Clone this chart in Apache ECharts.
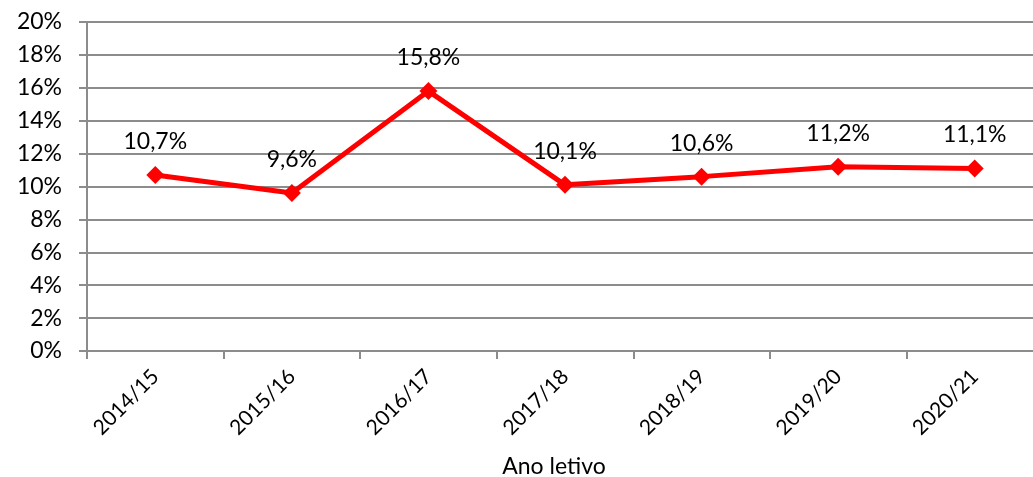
<!DOCTYPE html>
<html>
<head>
<meta charset="utf-8">
<script src="https://cdn.jsdelivr.net/npm/echarts@6/dist/echarts.min.js"></script>
<style>
  html, body { margin: 0; padding: 0; background: #fff; }
  #chart { width: 1033px; height: 477px; }
</style>
</head>
<body>
<div id="chart"></div>
<script>
var years = ['2014/15', '2015/16', '2016/17', '2017/18', '2018/19', '2019/20', '2020/21'];
var rates = [10.7, 9.6, 15.8, 10.1, 10.6, 11.2, 11.1];

var font = 'Lato, "Open Sans", sans-serif';
var gray = '#8c8c8c';

var myChart = echarts.init(document.getElementById('chart'));

var option = {
    animation: false,
    grid: {
        left: 87,
        width: 956,
        top: 22,
        height: 329,
        outerBoundsMode: 'none'
    },
    xAxis: {
        type: 'category',
        data: years,
        boundaryGap: true,
        name: 'Ano letivo',
        nameLocation: 'middle',
        nameGap: 104,
        nameTextStyle: { color: '#000', fontSize: 23, fontFamily: font, padding: [0, 22, 0, 0] },
        axisLine: { lineStyle: { color: gray, width: 2 } },
        axisTick: { show: true, length: 8, lineStyle: { color: gray, width: 2 } },
        axisLabel: {
            color: '#000',
            fontSize: 21,
            fontFamily: font,
            rotate: 45,
            margin: 22
        }
    },
    yAxis: {
        type: 'value',
        min: 0,
        max: 20,
        interval: 2,
        axisLine: { show: true, lineStyle: { color: gray, width: 2 } },
        axisTick: { show: true, length: 8, lineStyle: { color: gray, width: 2 } },
        splitLine: { lineStyle: { color: gray, width: 2 } },
        axisLabel: {
            color: '#000',
            fontSize: 23,
            fontFamily: font,
            margin: 25,
            formatter: function (v) { return v + '%'; }
        }
    },
    series: [
        {
            type: 'line',
            data: rates,
            symbol: 'diamond',
            symbolSize: 18,
            lineStyle: { color: '#ff0000', width: 5 },
            itemStyle: { color: '#ff0000' },
            label: {
                show: true,
                position: 'top',
                distance: 13,
                color: '#000',
                fontSize: 23,
                fontFamily: font,
                formatter: function (p) { return p.value.toFixed(1).replace('.', ',') + '%'; }
            }
        }
    ]
};

myChart.setOption(option);
</script>
</body>
</html>
